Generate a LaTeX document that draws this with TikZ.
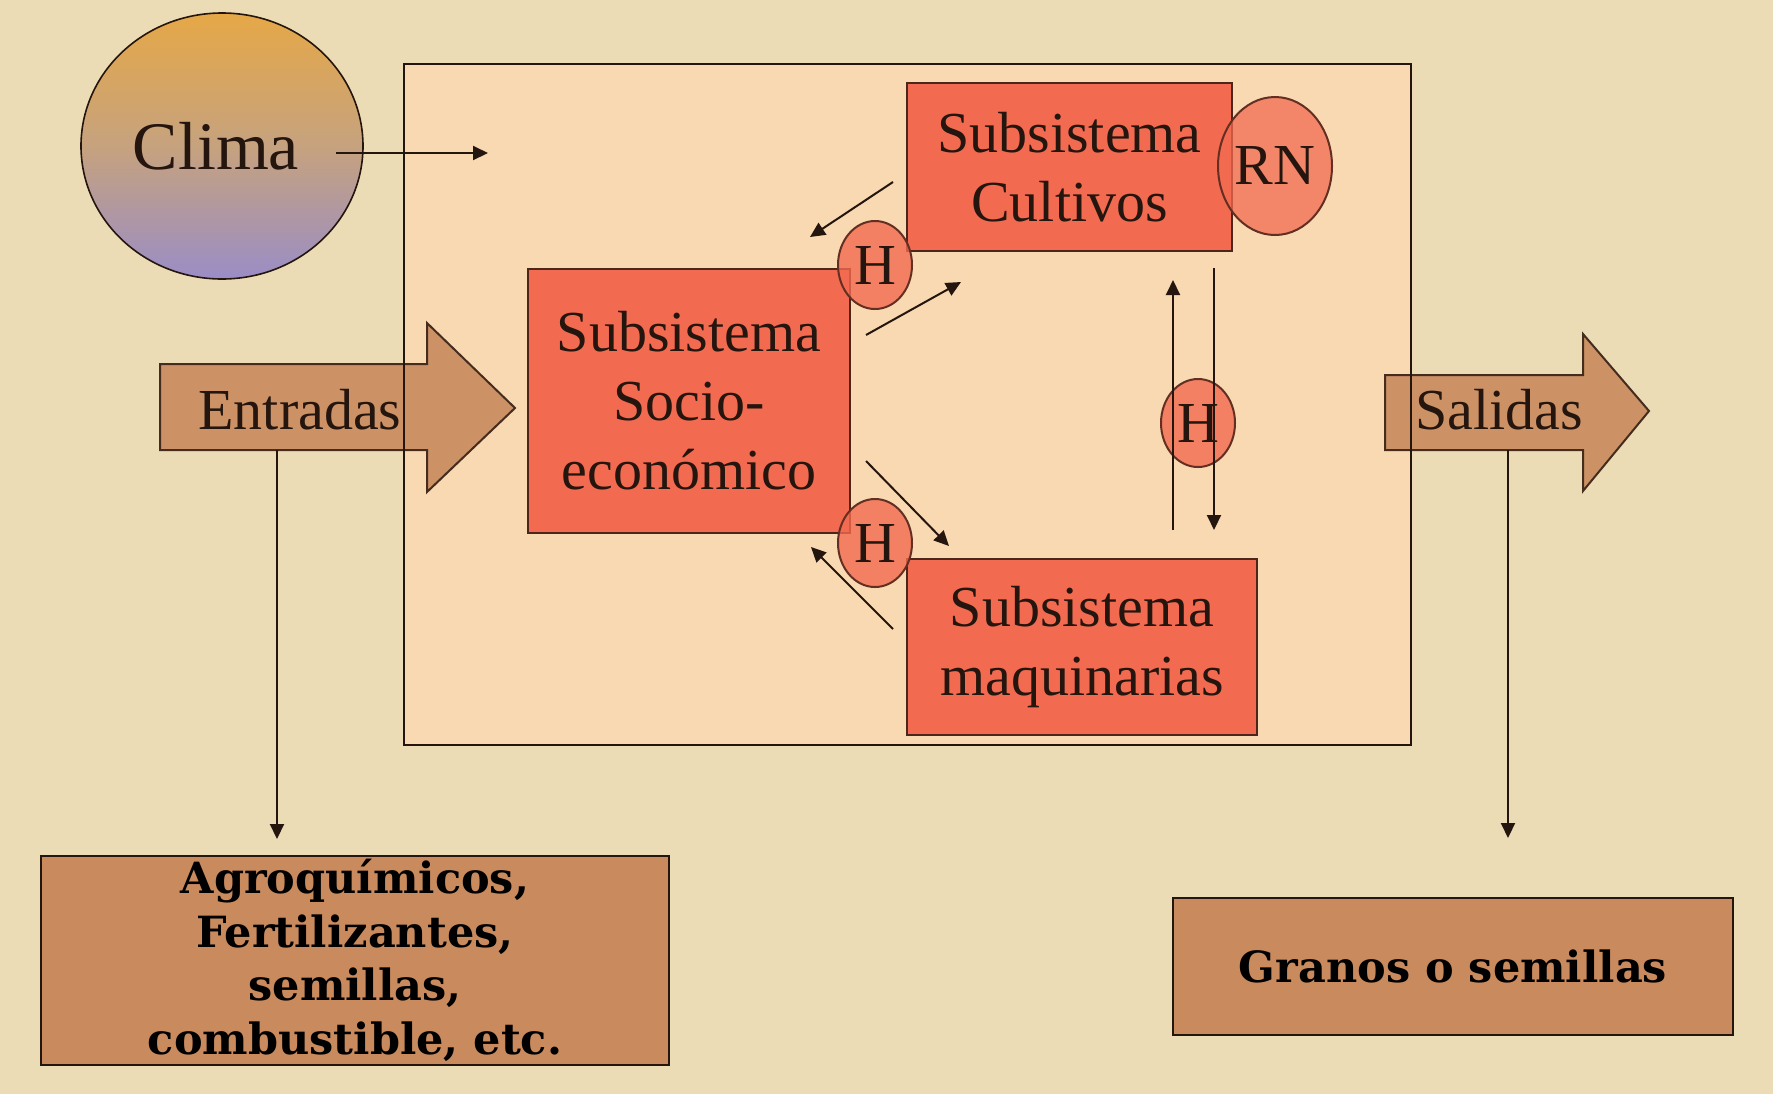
\documentclass[tikz,border=0pt]{standalone}
\usepackage{fontspec}
\setmainfont{Liberation Serif}
\newfontfamily\slab{DejaVu Serif}
\usetikzlibrary{arrows.meta,shapes.geometric}
\definecolor{bg}{HTML}{EBDCB6}
\definecolor{peach}{HTML}{F8D9B2}
\definecolor{redbox}{HTML}{F26A50}
\definecolor{brownbox}{HTML}{C98A5E}
\definecolor{ink}{HTML}{24150E}
\definecolor{climatop}{HTML}{E6A847}
\definecolor{climamid}{HTML}{C6A27E}
\definecolor{climabot}{HTML}{9A8DC6}
\tikzset{
  arr/.style={draw=ink, line width=1pt, -{Triangle[length=7.5pt,width=7pt]}},
  mainfont/.style={font=\fontsize{29}{34.5}\selectfont, text=ink},
  redrect/.style={mainfont, draw=ink!80!redbox, line width=1pt, fill=redbox, align=center, inner sep=0pt},
  hell/.style={mainfont, ellipse, draw=ink!70!redbox, line width=1pt, fill=redbox, fill opacity=0.8, text opacity=1, inner sep=0pt, minimum width=37pt, minimum height=44pt},
  brownrect/.style={draw=ink, line width=1pt, fill=brownbox, text=black, align=center, inner sep=0pt, font=\slab\bfseries\fontsize{21.5}{26.75}\selectfont},
  bigarrow/.style={draw=ink!80!brownbox, line width=1pt, fill=brownbox, fill opacity=0.9},
}
\begin{document}
\begin{tikzpicture}[x=0.5pt,y=-0.5pt]
\fill[bg] (0,0) rectangle (1773,1094);
\useasboundingbox (0,0) rectangle (1773,1094);
% system box fill
\fill[peach] (404,64) rectangle (1411,745);
% big arrows
\draw[bigarrow] (160,364) -- (427,364) -- (427,323) -- (515,408) -- (427,492) -- (427,450) -- (160,450) -- cycle;
\draw[bigarrow] (1385,375) -- (1583,375) -- (1583,334) -- (1649,411) -- (1583,491) -- (1583,450) -- (1385,450) -- cycle;
\node[mainfont] (entradas) at (300,410) {Entradas};
\node[mainfont] (salidas) at (1499,410) {Salidas};
% system box border
\node[draw=ink, line width=1pt, minimum width=503.5pt, minimum height=340.5pt, inner sep=0pt] (sys) at (907.5,404.5) {};
% clima
\node[ellipse, draw=ink, line width=0.8pt, top color=climatop, bottom color=climabot, middle color=climamid, minimum width=141pt, minimum height=133pt, inner sep=0pt] (clima) at (222,146) {};
\node[mainfont, font=\fontsize{34}{40}\selectfont] (climatxt) at (216,146) {Clima};
\coordinate (climaout) at (336,153);
\coordinate (climain) at (488,153);
\draw[arr] (climaout) -- (climain);
% subsystems
\node[redrect, minimum width=162.5pt, minimum height=84pt] (cult) at (1069.5,167) {Subsistema\\Cultivos};
\node[redrect, minimum width=161pt, minimum height=132pt] (socio) at (689,401) {Subsistema\\Socio-\\económico};
\node[redrect, minimum width=175pt, minimum height=88pt] (maq) at (1082,647) {Subsistema\\maquinarias};
% ellipses
\node[hell] (h1) at (875,265) {H};
\node[hell] (h2) at (875,543) {H};
\node[hell] (h3) at (1198,423) {H};
\node[hell, minimum width=57pt, minimum height=69pt, fill opacity=0.75] (rn) at (1275,166) {RN};
% diagonal arrows
\coordinate (a1s) at (893,182); \coordinate (a1e) at (810,237);
\coordinate (a2s) at (866,335); \coordinate (a2e) at (961,282);
\coordinate (a3s) at (866,461); \coordinate (a3e) at (949,546);
\coordinate (a4s) at (893,629); \coordinate (a4e) at (811,547);
\draw[arr] (a1s) -- (a1e);
\draw[arr] (a2s) -- (a2e);
\draw[arr] (a3s) -- (a3e);
\draw[arr] (a4s) -- (a4e);
% vertical arrows
\coordinate (v1s) at (1173,530); \coordinate (v1e) at (1173,280);
\coordinate (v2s) at (1214,268); \coordinate (v2e) at (1214,530);
\draw[arr] (v1s) -- (v1e);
\draw[arr] (v2s) -- (v2e);
% outputs
\node[brownrect, minimum width=314pt, minimum height=104.5pt] (agro) at (355,960.5) {Agroquímicos,\\Fertilizantes,\\semillas,\\combustible, etc.};
\node[brownrect, minimum width=280pt, minimum height=68.5pt] (granos) at (1453,966.5) {Granos o semillas};
\coordinate (entfoot) at (277,450); \coordinate (agroin) at (277,839);
\coordinate (salfoot) at (1508,450); \coordinate (granin) at (1508,838);
\draw[arr] (entfoot) -- (agroin);
\draw[arr] (salfoot) -- (granin);
\end{tikzpicture}
\end{document}
